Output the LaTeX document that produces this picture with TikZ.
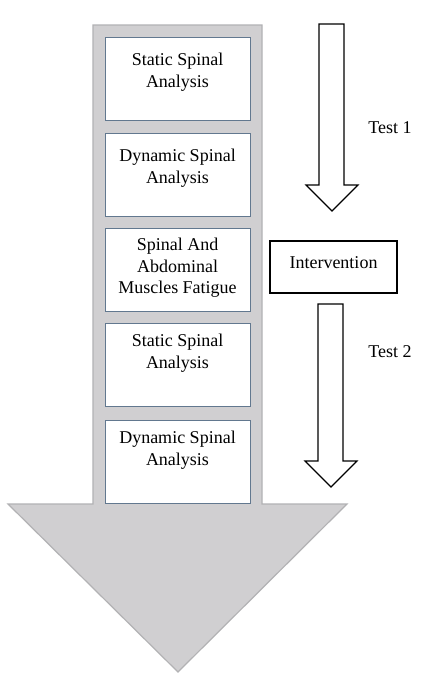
\documentclass[tikz,border=0pt]{standalone}
\usepackage{fontspec}
\setmainfont{Liberation Serif}
\begin{document}
\begin{tikzpicture}[x=1pt,y=-1pt,
  bigarrow/.style={fill=arrowgray,draw=arrowedge,line width=1.2pt,line join=miter},
  stagebox/.style={draw=boxedge,fill=white,line width=1.3pt,minimum width=145pt,inner sep=0pt,anchor=north west},
  stagetext/.style={align=center,font=\fontsize{18}{21.5}\selectfont,inner sep=0pt},
  testarrow/.style={draw=black,fill=white,line width=1.1pt,line join=miter},
  lbl/.style={font=\fontsize{18}{21.5}\selectfont,inner sep=0pt}]
\definecolor{arrowgray}{HTML}{D0CFD1}
\definecolor{arrowedge}{HTML}{B2B2B4}
\definecolor{boxedge}{HTML}{62788F}
\useasboundingbox (0,0) rectangle (423,686);
\fill[white] (0,0) rectangle (423,686);
% big gray arrow
\draw[bigarrow] (93,25) -- (262,25) -- (262,504) -- (347,504) -- (178,672) -- (8,504) -- (93,504) -- cycle;
% stage boxes
\node[stagebox,minimum height=83pt] (b1) at (105,37) {};
\node[stagebox,minimum height=83pt] (b2) at (105,133) {};
\node[stagebox,minimum height=83pt] (b3) at (105,228) {};
\node[stagebox,minimum height=83pt] (b4) at (105,323) {};
\node[stagebox,minimum height=83pt] (b5) at (105,420) {};
\node[stagetext] (t1) at (177.5,72) {Static Spinal\\Analysis};
\node[stagetext] (t2) at (177.5,168) {Dynamic Spinal\\Analysis};
\node[stagetext] (t3) at (177.5,268) {Spinal And\\Abdominal\\Muscles Fatigue};
\node[stagetext] (t4) at (177.5,353) {Static Spinal\\Analysis};
\node[stagetext] (t5) at (177.5,450) {Dynamic Spinal\\Analysis};
% test arrows
\draw[testarrow] (319,24) -- (344,24) -- (344,185) -- (358,185) -- (332,211) -- (306,185) -- (319,185) -- cycle;
\draw[testarrow] (318,304) -- (343,304) -- (343,461) -- (357,461) -- (331,487) -- (305,461) -- (318,461) -- cycle;
% intervention
\node[draw=black,line width=1.1pt,minimum width=127pt,minimum height=52pt,inner sep=0pt] (iv) at (333.5,267) {};
\node[lbl] (ivt) at (333.5,263) {Intervention};
\node[lbl] (test1) at (390,128) {Test 1};
\node[lbl] (test2) at (390,352) {Test 2};
\end{tikzpicture}
\end{document}
